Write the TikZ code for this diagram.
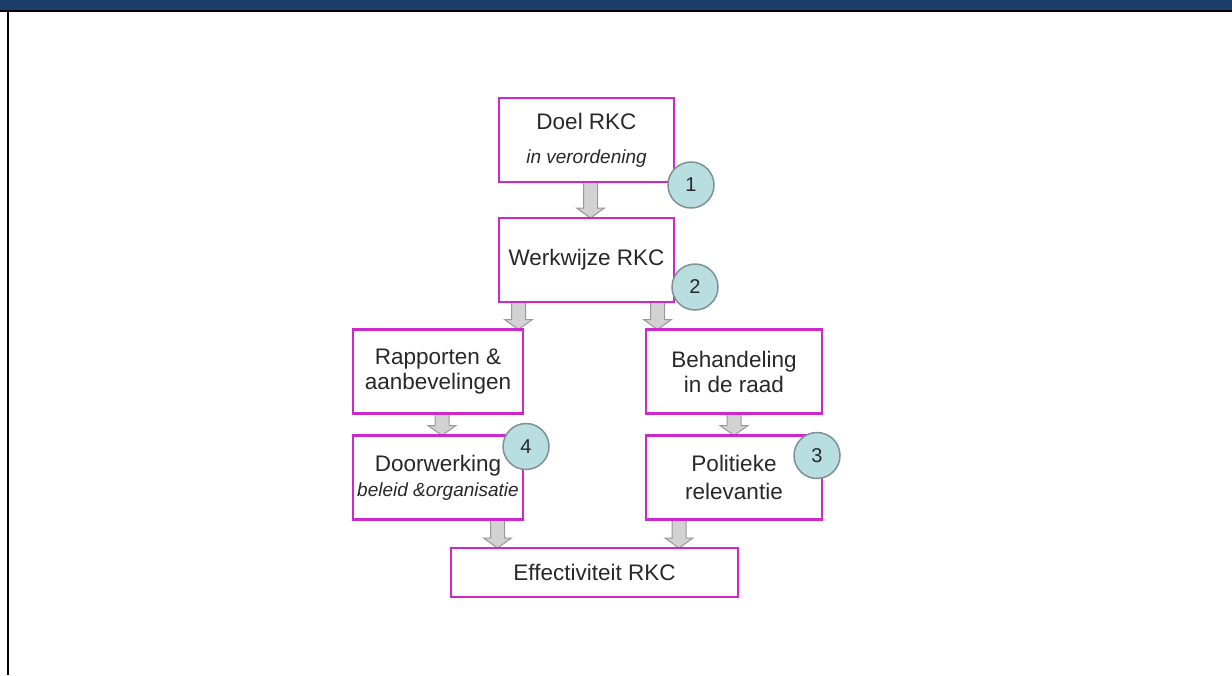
\documentclass[tikz,border=0pt]{standalone}
\usepackage{fontspec}
\setmainfont{Liberation Sans}
\usetikzlibrary{positioning,calc}
\pgfdeclarelayer{edgelayer}
\pgfsetlayers{edgelayer,main}
\definecolor{bandblue}{RGB}{31,61,106}
\definecolor{boxpink}{RGB}{204,40,204}
\definecolor{numfill}{RGB}{184,222,224}
\definecolor{numline}{RGB}{125,145,150}
\definecolor{txtgray}{RGB}{40,40,40}
\tikzstyle{box}  = [draw=boxpink,
                    line width=2.6pt,
                    fill=white,
                    text=txtgray,
                    align=center,
                    outer sep=0pt,
                    inner xsep=1pt,
                    inner ysep=2pt,
                    minimum width=172pt,
                    minimum height=84pt,
                    font=\fontsize{22.5}{25}\selectfont]
\tikzstyle{num}  = [circle,
                    draw=numline,
                    line width=1.5pt,
                    fill=numfill,
                    text=txtgray,
                    inner sep=0pt,
                    minimum size=46pt,
                    font=\fontsize{20}{20}\selectfont]
\tikzstyle{flow} = [draw=gray!80,
                    fill=gray!35,
                    line width=1pt]
\newcommand{\sub}{\fontsize{19}{22}\selectfont\itshape}
% block arrow from #1 down to #2
\newcommand{\flowarrow}[2]{%
  \filldraw[flow] ($(#1)+(-7,0)$) -- ($(#2)+(-7,-10)$) -- ($(#2)+(-14,-10)$)
    -- (#2) -- ($(#2)+(14,-10)$) -- ($(#2)+(7,-10)$) -- ($(#1)+(7,0)$) -- cycle;}

\begin{document}
\begin{tikzpicture}[x=1pt, y=-1pt]

  \useasboundingbox (0,0) rectangle (1232,675);

  % Frame
  \fill[bandblue] (0,0) rectangle (1232,9.5);
  \fill[black] (0,9.5) rectangle (1232,11.5);
  \fill[black] (6.5,9.5) rectangle (8.5,675);

  % Nodes
  \node[box, minimum width=175pt] (doel) at (586.5,140)
    {Doel RKC\\[9pt]{\sub in verordening}};
  \node[box, minimum width=175pt, below=36pt of doel] (werk) {Werkwijze RKC};
  \node[box, minimum width=170pt] (rapp) at (438,371.5)
    {Rapporten \&\\aanbevelingen};
  \node[box, minimum width=170pt, below=22pt of rapp] (door)
    {Doorwerking\\{\sub beleid \&organisatie}};
  \node[box, minimum width=176pt] (behan) at (734,371.5)
    {Behandeling\\in de raad};
  \node[box, minimum width=176pt, below=22pt of behan] (poli)
    {Politieke\\[3pt]relevantie};
  \node[box, minimum width=287pt, minimum height=49pt] (eff) at (594.5,572.5)
    {Effectiviteit RKC};

  % Numbers
  \node[num] (n1) at ([shift={(17,3)}]doel.south east) {1};
  \node[num] (n2) at ([shift={(21,-15)}]werk.south east) {2};
  \node[num] (n3) at ([shift={(-5,20)}]poli.north east) {3};
  \node[num] (n4) at ([shift={(3,11)}]door.north east) {4};

  % Edges
  \begin{pgfonlayer}{edgelayer}
    \coordinate (d1) at ([xshift=4pt]doel.south);
    \coordinate (w1) at ([xshift=-68pt]werk.south);
    \coordinate (w2) at ([xshift=71pt]werk.south);
    \coordinate (r1) at ([xshift=4pt]rapp.south);
    \coordinate (e1) at ([xshift=-97pt]eff.north);
    \coordinate (e2) at ([xshift=84.5pt]eff.north);
    \flowarrow{d1}{werk.north -| d1}
    \flowarrow{w1}{rapp.north -| w1}
    \flowarrow{w2}{behan.north -| w2}
    \flowarrow{r1}{door.north -| r1}
    \flowarrow{behan.south}{poli.north}
    \flowarrow{door.south -| e1}{e1}
    \flowarrow{poli.south -| e2}{e2}
  \end{pgfonlayer}

\end{tikzpicture}
\end{document}
